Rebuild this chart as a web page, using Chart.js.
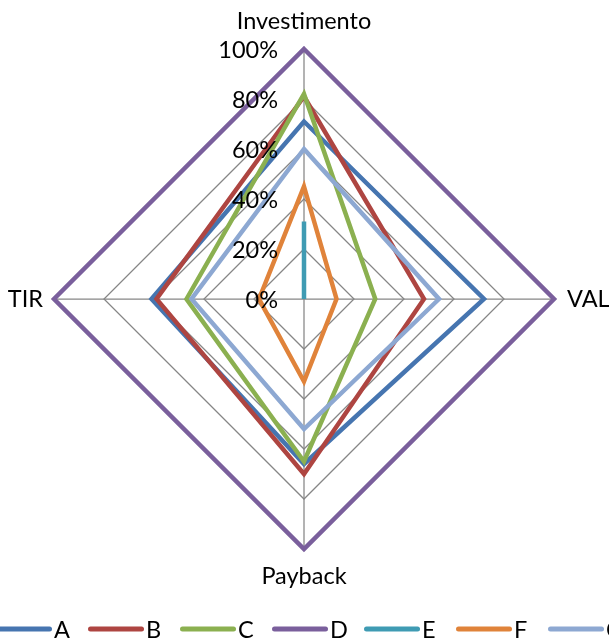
<!DOCTYPE html>
<html>
<head>
<meta charset="utf-8">
<script src="https://cdn.jsdelivr.net/npm/chart.js@4/dist/chart.umd.min.js"></script>
<style>
  html, body { margin: 0; padding: 0; background: #ffffff; overflow: hidden; }
  #wrap { position: relative; width: 609px; height: 643px; }
</style>
</head>
<body>
<div id="wrap"><canvas id="chart"></canvas></div>
<script>
// Criteria shown on the four spokes (clockwise from the top)
const criteria = ['Investimento', 'VAL', 'Payback', 'TIR'];

// Score of each alternative on every criterion, in percent
const seriesNames = ['A', 'B', 'C', 'D', 'E', 'F', 'G'];
const valuesA = [71, 72, 66, 61];
const valuesB = [81, 48, 70, 59];
const valuesC = [82, 28.5, 65, 47];
const valuesD = [100, 100, 100, 100];
const valuesE = [31, 0, 0, 0];
const valuesF = [45, 13, 33, 18];
const valuesG = [60, 54, 52, 45];

// Radial tick values and their labels
const tickValues = [0, 20, 40, 60, 80, 100];
const tickLabels = ['0%', '20%', '40%', '60%', '80%', '100%'];

const seriesColors = ['#4675B0', '#AE4541', '#8BB050', '#7A5F9C', '#3F9BB3', '#E0833A', '#8DA8D2'];
const allValues = [valuesA, valuesB, valuesC, valuesD, valuesE, valuesF, valuesG];

const FONT = '23.5px Lato, "Open Sans", sans-serif';
const TEXT_COLOR = '#000000';

// Percent labels to the left of the vertical spoke
const tickLabelPlugin = {
  id: 'tickLabelPlugin',
  afterDatasetsDraw(chart) {
    const scale = chart.scales.r;
    const ctx = chart.ctx;
    ctx.save();
    ctx.font = FONT;
    ctx.fillStyle = TEXT_COLOR;
    ctx.textAlign = 'right';
    ctx.textBaseline = 'middle';
    tickValues.forEach((v, i) => {
      const p = scale.getPointPositionForValue(0, v);
      ctx.fillText(tickLabels[i], scale.xCenter - 26, p.y + 1);
    });
    ctx.restore();
  }
};

// Criterion names just outside the outer ring
const spokeLabelPlugin = {
  id: 'spokeLabelPlugin',
  afterDraw(chart) {
    const scale = chart.scales.r;
    const ctx = chart.ctx;
    ctx.save();
    ctx.font = FONT;
    ctx.fillStyle = TEXT_COLOR;
    ctx.textBaseline = 'middle';
    const r = scale.drawingArea;
    const extra = [28, 13, 27, 11];
    const align = ['center', 'left', 'center', 'right'];
    criteria.forEach((name, i) => {
      const p = scale.getPointPosition(i, r + extra[i]);
      ctx.textAlign = align[i];
      ctx.fillText(name, p.x, p.y);
    });
    ctx.restore();
  }
};

// Horizontal legend row along the bottom edge
const legendRowPlugin = {
  id: 'legendRowPlugin',
  afterDraw(chart) {
    const ctx = chart.ctx;
    const y = 629;
    const startX = -4;
    const pitch = 92;
    const lineLen = 56;
    ctx.save();
    ctx.font = FONT;
    ctx.textBaseline = 'middle';
    ctx.textAlign = 'left';
    ctx.lineCap = 'round';
    ctx.lineWidth = 5;
    chart.data.datasets.forEach((ds, i) => {
      const x0 = startX + i * pitch;
      ctx.strokeStyle = ds.borderColor;
      ctx.beginPath();
      ctx.moveTo(x0 + 2.5, y);
      ctx.lineTo(x0 + lineLen - 2.5, y);
      ctx.stroke();
      ctx.fillStyle = TEXT_COLOR;
      ctx.fillText(ds.label, x0 + lineLen + 2, y + 1);
    });
    ctx.restore();
  }
};

const datasets = seriesNames.map((name, i) => ({
  label: name,
  data: allValues[i],
  borderColor: seriesColors[i],
  backgroundColor: seriesColors[i],
  borderWidth: 4.5,
  borderJoinStyle: 'miter',
  borderCapStyle: 'round',
  fill: false,
  pointRadius: 0,
  pointHoverRadius: 0,
  tension: 0,
  order: seriesNames.length - i
}));

new Chart(document.getElementById('chart'), {
  type: 'radar',
  data: { labels: criteria, datasets },
  options: {
    responsive: true,
    maintainAspectRatio: false,
    animation: false,
    layout: { padding: { left: 54, right: 55, top: 49, bottom: 94 } },
    plugins: {
      legend: { display: false },
      tooltip: { enabled: false }
    },
    scales: {
      r: {
        min: 0,
        max: 100,
        ticks: { stepSize: 20, display: false },
        grid: { color: '#868686', lineWidth: 1.25 },
        angleLines: { color: '#868686', lineWidth: 1.25 },
        pointLabels: { display: false }
      }
    }
  },
  plugins: [tickLabelPlugin, spokeLabelPlugin, legendRowPlugin]
});
</script>
</body>
</html>
